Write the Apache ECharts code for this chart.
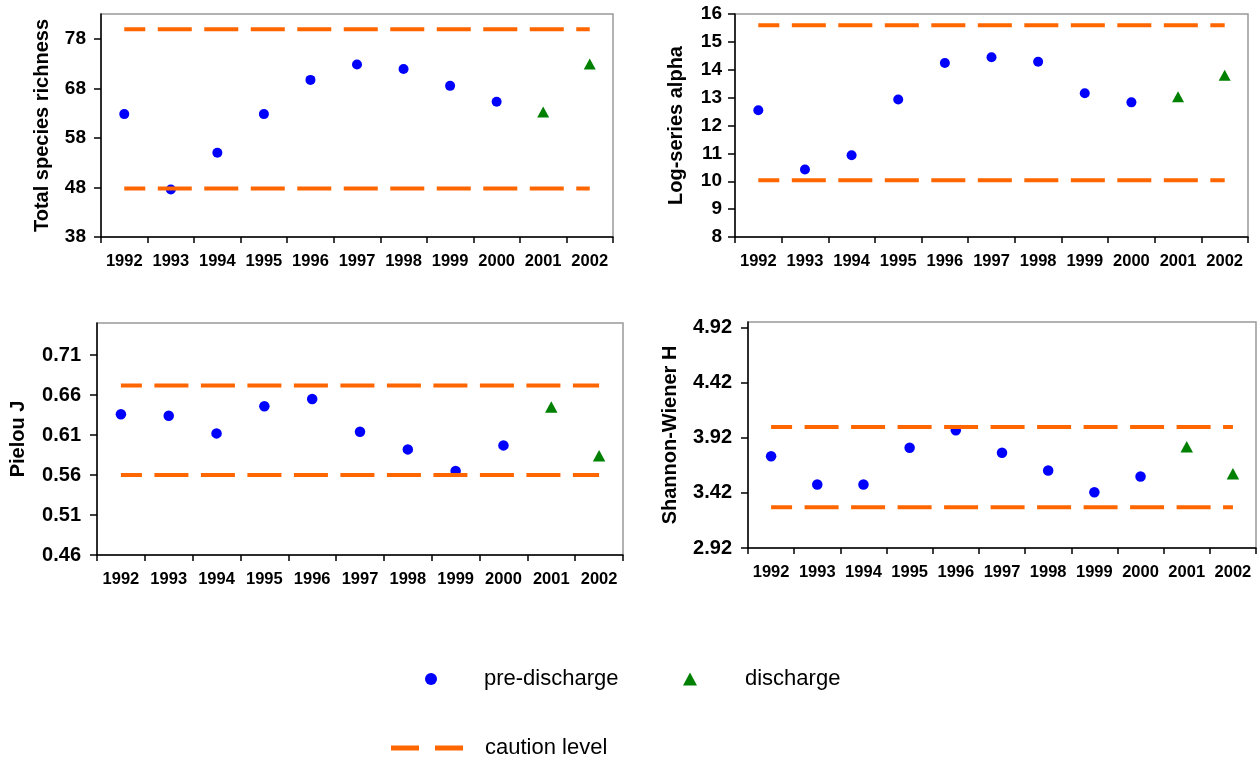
<!DOCTYPE html>
<html>
<head>
<meta charset="utf-8">
<script src="https://cdn.jsdelivr.net/npm/echarts@6/dist/echarts.min.js"></script>
<style>
  html, body { margin: 0; padding: 0; background: #fff; }
  #main { width: 1257px; height: 757px; }
</style>
</head>
<body>
<div id="main"></div>
<script>
// categories
var years = ['1992', '1993', '1994', '1995', '1996', '1997', '1998', '1999', '2000', '2001', '2002'];
var preYears = years.slice(0, 9);
var disYears = years.slice(9);

// total species richness
var richnessPre = [62.8, 47.6, 55.0, 62.8, 69.7, 72.8, 71.9, 68.5, 65.3];
var richnessDis = [63.2, 72.9];
var richnessCaution = [47.8, 79.9];
var richnessTicks = [38, 48, 58, 68, 78];

// log-series alpha
var alphaPre = [12.55, 10.42, 10.93, 12.93, 14.24, 14.45, 14.29, 13.16, 12.83];
var alphaDis = [13.03, 13.80];
var alphaCaution = [10.04, 15.60];
var alphaTicks = [8, 9, 10, 11, 12, 13, 14, 15, 16];

// Pielou J
var pielouPre = [0.636, 0.634, 0.612, 0.646, 0.655, 0.614, 0.592, 0.565, 0.597];
var pielouDis = [0.645, 0.584];
var pielouCaution = [0.56, 0.672];
var pielouTicks = [0.46, 0.51, 0.56, 0.61, 0.66, 0.71];

// Shannon-Wiener H
var shannonPre = [3.753, 3.496, 3.496, 3.829, 3.987, 3.784, 3.623, 3.426, 3.568];
var shannonDis = [3.838, 3.593];
var shannonCaution = [3.290, 4.017];
var shannonTicks = [2.92, 3.42, 3.92, 4.42, 4.92];

var FONT = '"Liberation Sans", Arial, sans-serif';
var ORANGE = '#FF6600';

var panels = [
  { name: 'Total species richness', pre: richnessPre, dis: richnessDis, caution: richnessCaution, ticks: richnessTicks,
    min: 38, max: 83, digits: 0, grid: { left: 101, top: 14, width: 512, height: 223 }, nameGap: 49, labelSize: 19, labelMargin: 15, dot: 10 },
  { name: 'Log-series alpha', pre: alphaPre, dis: alphaDis, caution: alphaCaution, ticks: alphaTicks,
    min: 8, max: 16, digits: 0, grid: { left: 735, top: 14, width: 513, height: 223 }, nameGap: 49, labelSize: 19, labelMargin: 13, dot: 10 },
  { name: 'Pielou J', pre: pielouPre, dis: pielouDis, caution: pielouCaution, ticks: pielouTicks,
    min: 0.46, max: 0.75, digits: 2, grid: { left: 97, top: 323, width: 526, height: 232 }, nameGap: 69, labelSize: 20, labelMargin: 16, dot: 10.5 },
  { name: 'Shannon-Wiener H', pre: shannonPre, dis: shannonDis, caution: shannonCaution, ticks: shannonTicks,
    min: 2.92, max: 4.97, digits: 2, grid: { left: 748, top: 322, width: 508, height: 226 }, nameGap: 68, labelSize: 20, labelMargin: 16, dot: 10.5 }
];

var chart = echarts.init(document.getElementById('main'));

var grids = [], xAxes = [], yAxes = [], series = [];

panels.forEach(function (p, i) {
  grids.push(Object.assign({ show: true, borderColor: '#999', borderWidth: 1.5, backgroundColor: 'transparent' }, p.grid));

  xAxes.push({
    type: 'category', gridIndex: i, data: years, boundaryGap: true,
    axisLine: { lineStyle: { color: '#000', width: 1.5 } },
    axisTick: { show: true, length: 6, lineStyle: { color: '#000', width: 1.5 } },
    axisLabel: { color: '#000', fontFamily: FONT, fontWeight: 'bold', fontSize: 16.5, margin: 16, interval: 0 },
    splitLine: { show: false }
  });

  yAxes.push({
    type: 'value', gridIndex: i, min: p.min, max: p.max,
    name: p.name, nameLocation: 'middle', nameGap: p.nameGap, nameRotate: 90,
    nameTextStyle: { color: '#000', fontFamily: FONT, fontWeight: 'bold', fontSize: 20 },
    axisLine: { show: true, lineStyle: { color: '#000', width: 1.5 } },
    axisTick: { show: true, length: 7, customValues: p.ticks, lineStyle: { color: '#000', width: 1.5 } },
    axisLabel: {
      color: '#000', fontFamily: FONT, fontWeight: 'bold', fontSize: p.labelSize, margin: p.labelMargin,
      customValues: p.ticks,
      formatter: (function (d) { return function (v) { return Number(v).toFixed(d); }; })(p.digits)
    },
    splitLine: { show: false }
  });

  series.push({
    name: 'caution level', type: 'line', xAxisIndex: i, yAxisIndex: i,
    symbol: 'none', silent: true,
    lineStyle: { color: ORANGE, width: 4, type: [34, 12.5], dashOffset: 13 },
    data: [[years[0], p.caution[1]], [years[years.length - 1], p.caution[1]]]
  });
  series.push({
    name: 'caution level', type: 'line', xAxisIndex: i, yAxisIndex: i,
    symbol: 'none', silent: true,
    lineStyle: { color: ORANGE, width: 4, type: [34, 12.5], dashOffset: 13 },
    data: [[years[0], p.caution[0]], [years[years.length - 1], p.caution[0]]]
  });
  series.push({
    name: 'pre-discharge', type: 'scatter', xAxisIndex: i, yAxisIndex: i,
    symbol: 'circle', symbolSize: p.dot, itemStyle: { color: '#0000FF', opacity: 1 },
    data: preYears.map(function (y, k) { return [y, p.pre[k]]; })
  });
  series.push({
    name: 'discharge', type: 'scatter', xAxisIndex: i, yAxisIndex: i,
    symbol: 'triangle', symbolSize: [p.dot + 2, p.dot + 1], itemStyle: { color: '#008000', opacity: 1 },
    data: disYears.map(function (y, k) { return [y, p.dis[k]]; })
  });
});

var legendText = { color: '#000', fontFamily: FONT, fontSize: 22 };

var option = {
  animation: false,
  backgroundColor: '#fff',
  grid: grids,
  xAxis: xAxes,
  yAxis: yAxes,
  series: series,
  legend: [
    {
      left: 425, top: 668, padding: 0, itemWidth: 12, itemHeight: 12, selectedMode: false,
      data: [{ name: 'pre-discharge', icon: 'circle' }],
      textStyle: Object.assign({ padding: [0, 0, 0, 42] }, legendText)
    },
    {
      left: 683, top: 668, padding: 0, itemWidth: 14, itemHeight: 13, selectedMode: false,
      data: [{ name: 'discharge', icon: 'triangle' }],
      textStyle: Object.assign({ padding: [0, 0, 0, 43] }, legendText)
    },
    {
      left: 391, top: 737, padding: 0, itemWidth: 72, itemHeight: 5, selectedMode: false,
      data: [{ name: 'caution level', icon: 'path://M0,0h28v5h-28zM44,0h28v5h-28z', itemStyle: { color: ORANGE } }],
      textStyle: Object.assign({ padding: [0, 0, 0, 17] }, legendText)
    }
  ]
};

chart.setOption(option);
</script>
</body>
</html>
